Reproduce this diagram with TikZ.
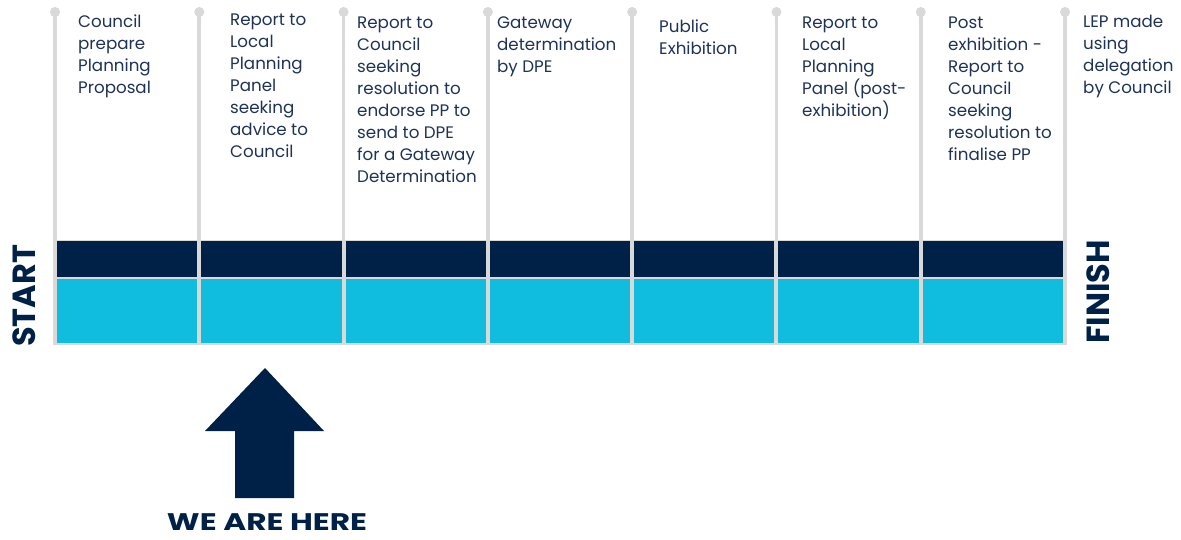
\documentclass[tikz,border=0pt]{standalone}
\usepackage{fontspec}
\setmainfont{Poppins}
\begin{document}
\begin{tikzpicture}[x=1pt,y=-1pt,
  pole/.style={draw=grayc,line width=3.6pt},
  dot/.style={circle,fill=grayc,draw=none,minimum size=10pt,inner sep=0pt},
  lbl/.style={anchor=north west,inner sep=0pt,text=textc,font=\fontsize{16.7}{22}\selectfont,align=left},
  big/.style={text=navyc,font=\fontsize{32}{32}\selectfont\bfseries,inner sep=0pt}]
\definecolor{navyc}{HTML}{002147}
\definecolor{cyanc}{HTML}{10BDDF}
\definecolor{grayc}{HTML}{D9D9D9}
\definecolor{textc}{HTML}{1E3358}
\useasboundingbox[fill=white] (0,0) rectangle (1181,540);
% grey backing of bars
\fill[grayc] (53,240) rectangle (1067,344.5);
\foreach \i in {0,...,6}{
  \pgfmathsetmacro{\xa}{55+144.29*\i+2}
  \pgfmathsetmacro{\xb}{55+144.29*(\i+1)-2}
  \fill[navyc] (\xa,241.5) rectangle (\xb,277);
  \fill[cyanc] (\xa,279) rectangle (\xb,343.3);
}
% poles
\foreach \i in {0,...,7}{
  \pgfmathsetmacro{\xx}{55+144.29*\i}
  \node[dot] (d\i) at (\xx,12) {};
  \coordinate (b\i) at (\xx,344);
  \draw[pole] (d\i.center) -- (b\i);
}
% labels
\node[lbl] (t0) at (78,15) {Council\\prepare\\Planning\\Proposal};
\node[lbl] (t1) at (230,14) {Report to\\Local\\Planning\\Panel\\seeking\\advice to\\Council};
\node[lbl] (t2) at (357,17) {Report to\\Council\\seeking\\resolution to\\endorse PP to\\send to DPE\\for a Gateway\\Determination};
\node[lbl] (t3) at (497,17) {Gateway\\determination\\by DPE};
\node[lbl] (t4) at (659,20) {Public\\Exhibition};
\node[lbl] (t5) at (802,17) {Report to\\Local\\Planning\\Panel (post-\\exhibition)};
\node[lbl] (t6) at (948,17) {Post\\exhibition -\\Report to\\Council\\seeking\\resolution to\\finalise PP};
\node[lbl] (t7) at (1083,15) {LEP made\\using\\delegation\\by Council};
% start / finish
\node[big,rotate=90] (start) at (24,296) {START};
\node[big,rotate=90] (finish) at (1098,292) {FINISH};
% arrow
\fill[navyc] (265,368) -- (324,431) -- (294,431) -- (294,498) -- (235,498) -- (235,431) -- (205,431) -- cycle;
\node[text=navyc,font=\fontsize{24}{24}\selectfont\bfseries,inner sep=0pt,xscale=1.3] (here) at (267,522) {WE ARE HERE};
\end{tikzpicture}
\end{document}
